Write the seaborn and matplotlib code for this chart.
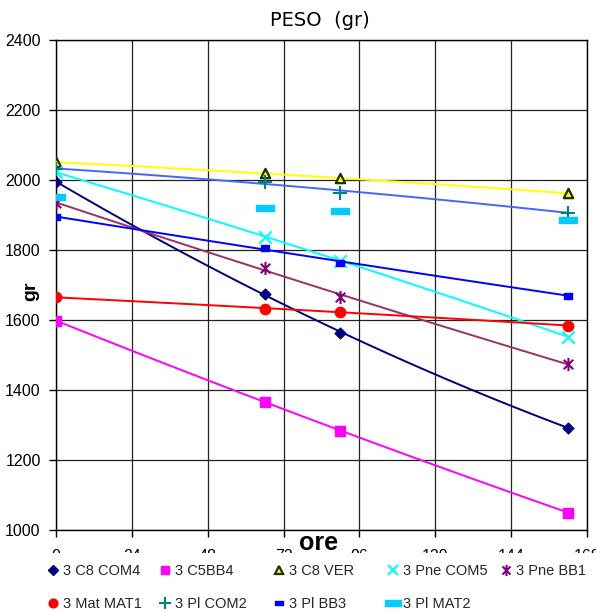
import numpy as np
import pandas as pd
import matplotlib
matplotlib.use("Agg")
import matplotlib.pyplot as plt
import seaborn as sns
from matplotlib.path import Path
from matplotlib.lines import Line2D
from matplotlib.patches import Rectangle

# ---- data ----
ore = [0, 66, 90, 162]
c8_com4 = [1995, 1674, 1564, 1292]
c5_bb4 = [1598, 1367, 1283, 1050]
c8_ver = [2051, 2019, 2005, 1962]
pne_com5 = [2022, 1838, 1770, 1552]
pne_bb1 = [1935, 1748, 1667, 1474]
mat_mat1 = [1665, 1632, 1624, 1584]
pl_com2 = [2032, 1995, 1964, 1907]
pl_bb3 = [1895, 1805, 1764, 1670]
pl_mat2 = [1951, 1920, 1911, 1886]

serie_names = ["3 C8 COM4", "3 C5BB4", "3 C8 VER", "3 Pne COM5", "3 Pne BB1",
               "3 Mat MAT1", "3 Pl COM2", "3 Pl BB3", "3 Pl MAT2"]
serie_values = [c8_com4, c5_bb4, c8_ver, pne_com5, pne_bb1,
                mat_mat1, pl_com2, pl_bb3, pl_mat2]
x_ticks = [0, 24, 48, 72, 96, 120, 144, 168]
y_ticks = [1000, 1200, 1400, 1600, 1800, 2000, 2200, 2400]

# ---- styles ----
ast = Path([(0, -1), (0, 1), (-0.72, -0.72), (0.72, 0.72), (-0.72, 0.72), (0.72, -0.72)],
           [Path.MOVETO, Path.LINETO] * 3)
dash = Path([(-1, -0.33), (1, -0.33), (1, 0.33), (-1, 0.33), (-1, -0.33)],
            [Path.MOVETO, Path.LINETO, Path.LINETO, Path.LINETO, Path.CLOSEPOLY])
rect = Path([(-1, -0.62), (1, -0.62), (1, 0.62), (-1, 0.62), (-1, -0.62)],
            [Path.MOVETO, Path.LINETO, Path.LINETO, Path.LINETO, Path.CLOSEPOLY])

styles = [
    dict(marker="D", fc="#000080", ec="#000080", s=30, lw=1.0, line="#000080"),
    dict(marker="s", fc="#FF00FF", ec="#FF00FF", s=50, lw=1.0, line="#FF00FF"),
    dict(marker="^", fc="#FFFF00", ec="#173300", s=45, lw=1.6, line="#FFFF00"),
    dict(marker="x", fc="#00FFFF", ec="#00FFFF", s=80, lw=1.5, line="#00FFFF"),
    dict(marker=ast, fc="#800080", ec="#800080", s=90, lw=1.5, line="#993366"),
    dict(marker="o", fc="#FF0000", ec="#FF0000", s=55, lw=1.0, line="#FF0000"),
    dict(marker="+", fc="#008080", ec="#008080", s=110, lw=1.5, line="#4466FF"),
    dict(marker=rect, fc="#0000FF", ec="#0000FF", s=40, lw=1.0, line="#0000FF"),
    dict(marker=dash, fc="#00CCFF", ec="#00CCFF", s=170, lw=1.0, line=None),
]

sns.set_theme(style="white")
plt.rcParams["font.family"] = ["Liberation Sans", "DejaVu Sans"]

W, H = 596, 612
fig = plt.figure(figsize=(W / 100, H / 100), dpi=100)
fig.patch.set_facecolor("white")
ax = fig.add_axes([56 / W, 1 - 530 / H, (587 - 56) / W, 490 / H])
ax.set_facecolor("white")

# trend lines
for vals, st in zip(serie_values, styles):
    if st["line"] is not None:
        sns.regplot(x=ore, y=vals, order=2, ci=None, scatter=False, truncate=True,
                    line_kws=dict(color=st["line"], lw=1.4, zorder=3), ax=ax)

# markers
for vals, st in zip(serie_values, styles):
    sns.scatterplot(x=ore, y=vals, marker=st["marker"], s=st["s"], color=st["fc"],
                    edgecolor=st["ec"], linewidth=st["lw"], zorder=5, ax=ax, legend=False)

ax.set_xlim(0, 168)
ax.set_ylim(1000, 2400)
ax.set_xticks(x_ticks)
ax.set_yticks(y_ticks)
ax.grid(True, color="#222222", lw=0.9)
ax.set_axisbelow(True)
for sp in ax.spines.values():
    sp.set_color("black")
    sp.set_linewidth(1.0)
ax.tick_params(axis="both", direction="out", length=5, width=1, color="black",
               labelsize=11.5, labelcolor="black", bottom=True, left=True)
ax.tick_params(axis="x", pad=9)
ax.tick_params(axis="y", pad=6)

ax.set_xlabel("ore", fontsize=18, fontweight="bold", color="black")
ax.xaxis.set_label_coords(0.495, -0.027)
ax.xaxis.label.set_va("center")
ax.set_ylabel("gr", fontsize=14, fontweight="bold", color="black")
ax.yaxis.set_label_coords(-0.047, 0.488)
ax.yaxis.label.set_va("center")

fig.text(319.5 / W, 1 - 21 / H, "PESO  (gr)", ha="center", va="center",
         fontsize=14, family="DejaVu Sans", color="black")

# white legend area (covers lower part of tick labels as in the reference)
fig.patches.append(Rectangle((0, 0), 1, 1 - 553 / H, transform=fig.transFigure,
                             facecolor="white", edgecolor="none", zorder=3))

# legend entries placed on a 5-column grid
col_x = [53, 165, 279, 393, 506]
row_y = [571, 604]
for i, (name, st) in enumerate(zip(serie_names, styles)):
    r, c = divmod(i, 5)
    h = Line2D([], [], linestyle="none", marker=st["marker"], color=st["fc"],
               markerfacecolor=st["fc"], markeredgecolor=st["ec"],
               markersize=np.sqrt(st["s"]) * 0.85, markeredgewidth=st["lw"])
    leg = fig.legend(handles=[h], labels=[name], loc="center left",
                     bbox_to_anchor=((col_x[c] - 5) / W, 1 - row_y[r] / H),
                     frameon=False, handlelength=0.7, handletextpad=0.3,
                     borderpad=0, borderaxespad=0, fontsize=10.5)
    leg.set_zorder(6)

fig.savefig("out.png", dpi=100, facecolor="white")
